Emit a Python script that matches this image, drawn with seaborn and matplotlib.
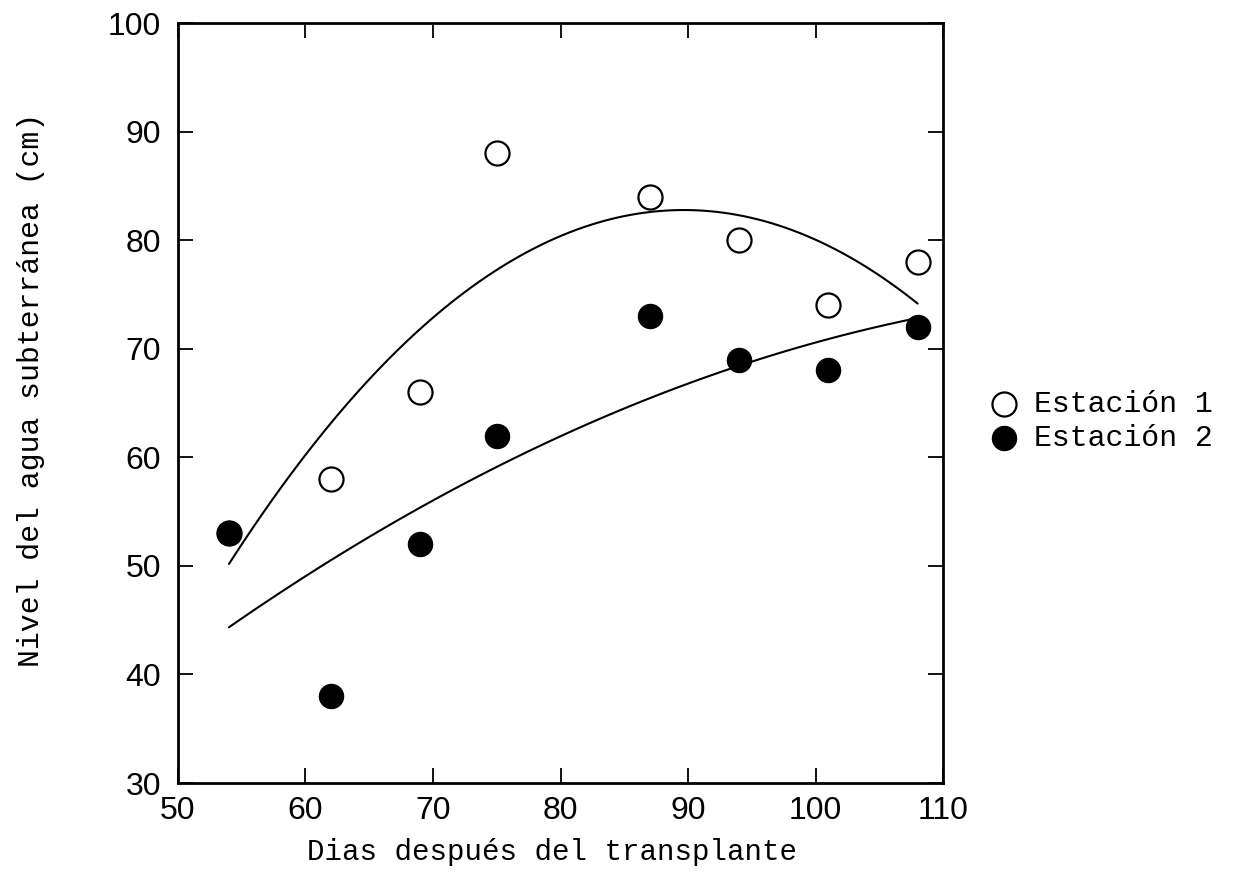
import numpy as np
import pandas as pd
import seaborn as sns
import matplotlib.pyplot as plt

# dane
dias_1 = [54, 62, 69, 75, 87, 94, 101, 108]
nivel_1 = [53, 58, 66, 88, 84, 80, 74, 78]

dias_2 = [54, 62, 69, 75, 87, 94, 101, 108]
nivel_2 = [53, 38, 52, 62, 73, 69, 68, 72]

x_ticks = [50, 60, 70, 80, 90, 100, 110]
y_ticks = [30, 40, 50, 60, 70, 80, 90, 100]

data_1 = pd.DataFrame({"dias": dias_1, "nivel": nivel_1})
data_2 = pd.DataFrame({"dias": dias_2, "nivel": nivel_2})

sns.set_style("ticks")
plt.rcParams["text.color"] = "black"
plt.rcParams["xtick.color"] = "black"
plt.rcParams["ytick.color"] = "black"
plt.rcParams["axes.labelcolor"] = "black"
mono = ["Liberation Mono", "DejaVu Sans Mono"]

fig = plt.figure(figsize=(12.41, 8.88), dpi=100)
ax = fig.add_axes([0.1434, 0.1182, 0.6166, 0.8558])

# krzywe regresji (wielomian 2 stopnia)
sns.regplot(x="dias", y="nivel", data=data_1, order=2, ci=None, scatter=False,
            line_kws={"color": "black", "lw": 1.5}, ax=ax)
sns.regplot(x="dias", y="nivel", data=data_2, order=2, ci=None, scatter=False,
            line_kws={"color": "black", "lw": 1.5}, ax=ax)

# punkty
sns.scatterplot(x="dias", y="nivel", data=data_1, marker="o", s=300,
                facecolor="white", edgecolor="black", linewidth=1.6,
                label="Estación 1", ax=ax, zorder=3)
sns.scatterplot(x="dias", y="nivel", data=data_2, marker="o", s=300,
                color="black", edgecolor="black", linewidth=1.0,
                label="Estación 2", ax=ax, zorder=4)

ax.set_xlim(50, 110)
ax.set_ylim(30, 100)
ax.set_xticks(x_ticks)
ax.set_yticks(y_ticks)
ax.tick_params(direction="in", length=11, width=1.3, top=True, right=True,
               labelsize=23)
ax.tick_params(axis="x", pad=9)
ax.tick_params(axis="y", pad=12)
for lab in ax.get_xticklabels() + ax.get_yticklabels():
    lab.set_family("Liberation Sans")
for s in ax.spines.values():
    s.set_linewidth(2)
    s.set_color("black")

ax.set_xlabel("Dias después del transplante", family=mono, fontsize=21)
ax.xaxis.set_label_coords(0.489, -0.072)
ax.set_ylabel("Nivel del agua subterránea (cm)", family=mono, fontsize=21.5)
ax.yaxis.set_label_coords(-0.174, 0.517)

ax.legend(loc="center left", bbox_to_anchor=(1.045, 0.477), frameon=False,
          prop={"family": mono, "size": 21.5}, handletextpad=0.5, labelspacing=0.2,
          borderaxespad=0, handlelength=1.0)

plt.savefig("out.png", dpi=100)
